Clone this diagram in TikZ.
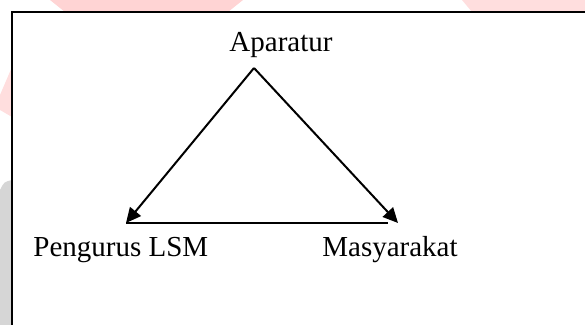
\documentclass[tikz,border=0pt]{standalone}
\usepackage{fontspec}
\setmainfont{Liberation Serif}
\usetikzlibrary{arrows.meta}

\tikzset{
	label/.style = {inner sep = 0, font = \fontsize{14.5}{17}\selectfont},
	link/.style = {line width = 1pt, -{Triangle[length = 7.5pt, width = 7pt]}}
}

\begin{document}
\begin{tikzpicture}[x = 0.5pt, y = -0.5pt]
	\useasboundingbox (0, 0) rectangle (585, 325);
	% faint marks behind the frame
	\fill [red!17] (50, 0) -- (243, 0) -- (228, 12) -- (65, 12) -- cycle;
	\fill [red!13] (462, 0) -- (585, 0) -- (585, 12) -- (472, 12) -- cycle;
	\fill [red!13] (12, 67) -- (12, 117) -- (0, 110) -- (0, 95) -- cycle;
	\fill [black!16] (0, 190) .. controls (4, 182) .. (12, 180) -- (12, 325) -- (0, 325) -- cycle;
	% frame
	\fill [white] (12, 12) rectangle (585, 325);
	\draw [line width = 1pt] (585, 12) -- (12, 12) -- (12, 325);
	% labels
	\node [label, anchor = base] (apa) at (281, 52) {Aparatur};
	\node [label, anchor = base west] (png) at (33, 257) {Pengurus LSM};
	\node [label, anchor = base west] (mas) at (322, 257) {Masyarakat};
	\coordinate (top) at (254, 68);
	\coordinate (left) at (126, 223);
	\coordinate (right) at (398, 223);
	\draw [link] (top) -- (left);
	\draw [link] (top) -- (right);
	\draw [line width = 1pt] (left) -- ([xshift = -5pt] right);
\end{tikzpicture}
\end{document}
